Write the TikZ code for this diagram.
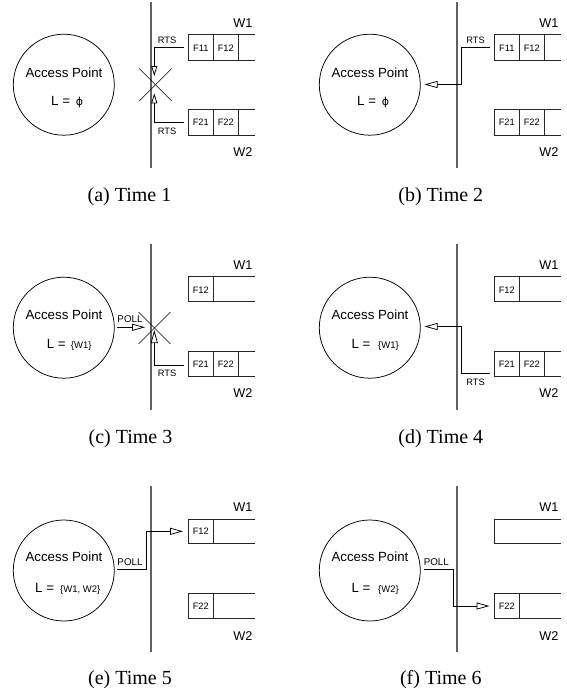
\documentclass[tikz,border=0pt]{standalone}
\usepackage{fontspec}
\setmainfont{Liberation Serif}
\setsansfont{Liberation Sans}
\newfontfamily\phifont{DejaVu Sans}
\usetikzlibrary{arrows.meta}
\tikzset{
  bus/.style={draw=black!62, line width=1.4pt},
  apcircle/.style={circle, draw, line width=0.75pt, minimum size=101pt, inner sep=0pt},
  aptext/.style={font=\sffamily\fontsize{13.3}{14}\selectfont, inner sep=0pt},
  phitext/.style={font=\phifont\fontsize{11}{11}\selectfont, inner sep=0pt, anchor=base},
  lset/.style={font=\sffamily\fontsize{9.5}{10}\selectfont, inner sep=0pt, anchor=base west},
  small/.style={font=\sffamily\fontsize{9.3}{10}\selectfont, inner sep=0pt},
  polltext/.style={font=\sffamily\fontsize{9.8}{10}\selectfont, inner sep=0pt},
  wlabel/.style={font=\sffamily\fontsize{12.7}{13}\selectfont, inner sep=0pt},
  qline/.style={draw=black!85, line width=0.75pt},
  sig/.style={draw, line width=0.75pt},
  opentip/.style={-{Triangle[open, length=13pt, width=7pt, line width=0.75pt]}},
  shorttip/.style={-{Triangle[open, length=10pt, width=6pt, line width=0.75pt]}},
  cross/.style={draw, line width=0.6pt},
  caption/.style={font=\fontsize{20}{22}\selectfont, inner sep=0pt, anchor=base},
}
\begin{document}
\begin{tikzpicture}[x=1pt, y=-1pt]
\useasboundingbox (0,0) rectangle (566,691);

% ================= (a) =================
\begin{scope}
\draw[bus] (151,2) -- (151,168);
\node[apcircle] (apA) at (63.8,84.7) {};
\node[aptext] (aptA) at (64,72.7) {Access Point};
\node[aptext, anchor=base west] (LA) at (51,105.7) {L =};
\node[phitext] (phiA) at (79.5,105.7) {ϕ};
\draw[qline] (255,34.3) -- (188.3,34.3) -- (188.3,60) -- (255,60);
\draw[qline] (213.3,34.3) -- (213.3,60) (238.3,34.3) -- (238.3,60);
\node[small] (f11A) at (200.8,48.7) {F11};
\node[small] (f12A) at (225.8,48.7) {F12};
\draw[qline] (255,109.3) -- (188.3,109.3) -- (188.3,135) -- (255,135);
\draw[qline] (213.3,109.3) -- (213.3,135) (238.3,109.3) -- (238.3,135);
\node[small] (f21A) at (200.8,122.3) {F21};
\node[small] (f22A) at (225.8,122.3) {F22};
\node[wlabel] (w1A) at (243,23.3) {W1};
\node[wlabel] (w2A) at (243,152) {W2};
\coordinate (r1sA) at (184,47);
\coordinate (r1tA) at (154.3,76);
\draw[sig, shorttip] (r1sA) -| (r1tA);
\node[small] (rts1A) at (167,40.3) {RTS};
\coordinate (r2sA) at (184,122.5);
\coordinate (r2tA) at (154.3,93.3);
\draw[sig, shorttip] (r2sA) -| (r2tA);
\node[small] (rts2A) at (167,131.7) {RTS};
\coordinate (xA) at (155.5,84.7);
\draw[cross] ([shift={(-16.2,-16.2)}]xA) -- ([shift={(16.2,16.2)}]xA);
\draw[cross] ([shift={(16.2,-16.2)}]xA) -- ([shift={(-16.2,16.2)}]xA);
\node[caption] (capA) at (129.5,201.7) {(a) Time 1};
\end{scope}

% ================= (b) =================
\begin{scope}[shift={(306,0)}]
\draw[bus] (151,2) -- (151,168);
\node[apcircle] (apB) at (63.8,84.7) {};
\node[aptext] (aptB) at (64,72.7) {Access Point};
\node[aptext, anchor=base west] (LB) at (51,105.7) {L =};
\node[phitext] (phiB) at (79.5,105.7) {ϕ};
\draw[qline] (255,34.3) -- (188.3,34.3) -- (188.3,60) -- (255,60);
\draw[qline] (213.3,34.3) -- (213.3,60) (238.3,34.3) -- (238.3,60);
\node[small] (f11B) at (200.8,48.7) {F11};
\node[small] (f12B) at (225.8,48.7) {F12};
\draw[qline] (255,109.3) -- (188.3,109.3) -- (188.3,135) -- (255,135);
\draw[qline] (213.3,109.3) -- (213.3,135) (238.3,109.3) -- (238.3,135);
\node[small] (f21B) at (200.8,122.3) {F21};
\node[small] (f22B) at (225.8,122.3) {F22};
\node[wlabel] (w1B) at (243,23.3) {W1};
\node[wlabel] (w2B) at (243,152) {W2};
\coordinate (rsB) at (184,47);
\coordinate (rmB) at (155.3,84.5);
\coordinate (rtB) at (118.5,84.5);
\draw[sig, opentip] (rsB) -| (rmB) -- (rtB);
\node[small] (rtsB) at (169.5,40.3) {RTS};
\node[caption] (capB) at (134.8,201.7) {(b) Time 2};
\end{scope}

% ================= (c) =================
\begin{scope}[shift={(0,242)}]
\draw[bus] (151,1.5) -- (151,168);
\node[apcircle] (apC) at (63.8,85.7) {};
\node[aptext] (aptC) at (64,72.7) {Access Point};
\node[aptext, anchor=base west] (LC) at (46.7,106) {L =};
\node[lset] (setC) at (70.7,106) {\{W1\}};
\draw[qline] (255,34.7) -- (188.3,34.7) -- (188.3,59.7) -- (255,59.7);
\draw[qline] (213.3,34.7) -- (213.3,59.7);
\node[small] (f12C) at (200.8,48.5) {F12};
\draw[qline] (255,109.7) -- (188.3,109.7) -- (188.3,134.7) -- (255,134.7);
\draw[qline] (213.3,109.7) -- (213.3,134.7) (238.3,109.7) -- (238.3,134.7);
\node[small] (f21C) at (200.8,122.5) {F21};
\node[small] (f22C) at (225.8,122.5) {F22};
\node[wlabel] (w1C) at (243,23.5) {W1};
\node[wlabel] (w2C) at (243,151.5) {W2};
\coordinate (psC) at (117.3,85.3);
\coordinate (ptC) at (145,85.3);
\draw[sig, opentip] (psC) -- (ptC);
\node[polltext] (pollC) at (130,77.5) {POLL};
\coordinate (rsC) at (184,123);
\coordinate (rtC) at (154.3,88);
\draw[sig, opentip] (rsC) -| (rtC);
\node[small] (rtsC) at (167,131.5) {RTS};
\coordinate (xC) at (154.5,86);
\draw[cross] ([shift={(-16,-16)}]xC) -- ([shift={(16,16)}]xC);
\draw[cross] ([shift={(16,-16)}]xC) -- ([shift={(-16,16)}]xC);
\node[caption] (capC) at (130.5,201.7) {(c) Time 3};
\end{scope}

% ================= (d) =================
\begin{scope}[shift={(306,242)}]
\draw[bus] (151,1.5) -- (151,168);
\node[apcircle] (apD) at (63.8,85.7) {};
\node[aptext] (aptD) at (64,72.7) {Access Point};
\node[aptext, anchor=base west] (LD) at (45.3,106) {L =};
\node[lset] (setD) at (72,106) {\{W1\}};
\draw[qline] (255,34.7) -- (188.3,34.7) -- (188.3,59.7) -- (255,59.7);
\draw[qline] (213.3,34.7) -- (213.3,59.7);
\node[small] (f12D) at (200.8,48.5) {F12};
\draw[qline] (255,109.7) -- (188.3,109.7) -- (188.3,134.7) -- (255,134.7);
\draw[qline] (213.3,109.7) -- (213.3,134.7) (238.3,109.7) -- (238.3,134.7);
\node[small] (f21D) at (200.8,122.5) {F21};
\node[small] (f22D) at (225.8,122.5) {F22};
\node[wlabel] (w1D) at (243,23.5) {W1};
\node[wlabel] (w2D) at (243,151.5) {W2};
\coordinate (rsD) at (183.7,131.3);
\coordinate (rmD) at (155.3,84.5);
\coordinate (rtD) at (118.5,84.5);
\draw[sig, opentip] (rsD) -| (rmD) -- (rtD);
\node[small] (rtsD) at (169.5,140.7) {RTS};
\node[caption] (capD) at (134.8,201.7) {(d) Time 4};
\end{scope}

% ================= (e) =================
\begin{scope}[shift={(0,484)}]
\draw[bus] (151,2) -- (151,168);
\node[apcircle] (apE) at (63.8,86.5) {};
\node[aptext] (aptE) at (64,72.7) {Access Point};
\node[aptext, anchor=base west] (LE) at (35,108) {L =};
\node[lset] (setE) at (60,108) {\{W1, W2\}};
\draw[qline] (255,35) -- (188.3,35) -- (188.3,59.3) -- (255,59.3);
\draw[qline] (213.3,35) -- (213.3,59.3);
\node[small] (f12E) at (200.8,47.5) {F12};
\draw[qline] (255,109.3) -- (188.3,109.3) -- (188.3,134.7) -- (255,134.7);
\draw[qline] (213.3,109.3) -- (213.3,134.7);
\node[small] (f22E) at (200.8,122) {F22};
\node[wlabel] (w1E) at (243,23.3) {W1};
\node[wlabel] (w2E) at (243,152) {W2};
\coordinate (psE) at (117.3,85);
\coordinate (pmE) at (146.3,47.3);
\coordinate (ptE) at (183,47.3);
\draw[sig, opentip] (psE) -| (pmE) -- (ptE);
\node[polltext] (pollE) at (130,77.7) {POLL};
\node[caption] (capE) at (130,200.5) {(e) Time 5};
\end{scope}

% ================= (f) =================
\begin{scope}[shift={(306,484)}]
\draw[bus] (151,2) -- (151,168);
\node[apcircle] (apF) at (63.8,86.5) {};
\node[aptext] (aptF) at (64,72.7) {Access Point};
\node[aptext, anchor=base west] (LF) at (45.3,108) {L =};
\node[lset] (setF) at (72,108) {\{W2\}};
\draw[qline] (255,35) -- (188,35) -- (188,59.3) -- (255,59.3);
\draw[qline] (255,109.3) -- (188,109.3) -- (188,134.7) -- (255,134.7);
\draw[qline] (213.7,109.3) -- (213.7,134.7);
\node[small] (f22F) at (200.8,122) {F22};
\node[wlabel] (w1F) at (243,23.3) {W1};
\node[wlabel] (w2F) at (243,152) {W2};
\coordinate (psF) at (117.7,85);
\coordinate (pmF) at (147,122);
\coordinate (ptF) at (183.5,122);
\draw[sig, opentip] (psF) -| (pmF) -- (ptF);
\node[polltext] (pollF) at (130.3,77.7) {POLL};
\node[caption] (capF) at (134.8,200.5) {(f) Time 6};
\end{scope}
\end{tikzpicture}
\end{document}
